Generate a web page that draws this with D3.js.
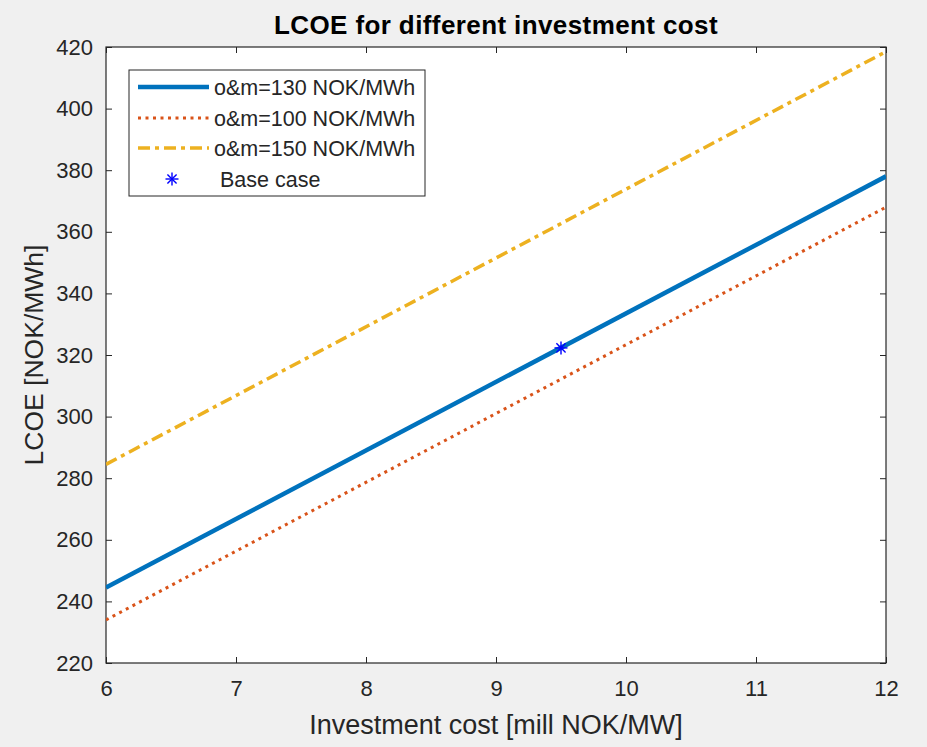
<!DOCTYPE html>
<html>
<head>
<meta charset="utf-8">
<script src="https://cdn.jsdelivr.net/npm/d3@7"></script>
<style>
  body { margin: 0; background: #f0f0f0; }
  text { font-family: "Liberation Sans", Arial, sans-serif; fill: #262626; }
</style>
</head>
<body>
<div id="chart"></div>
<script>
// Data
const investCost = [6, 12];
const lcoe130 = [244.5, 378];
const lcoe100 = [234, 368];
const lcoe150 = [284.5, 418.5];
const baseCase = { x: 9.5, y: 322.3 };

const xTicks = [6, 7, 8, 9, 10, 11, 12];
const yTicks = [220, 240, 260, 280, 300, 320, 340, 360, 380, 400, 420];

const seriesNames = ['o&m=130 NOK/MWh', 'o&m=100 NOK/MWh', 'o&m=150 NOK/MWh', 'Base case'];

const width = 927;
const height = 747;
const margin = { top: 47, right: 41, bottom: 84, left: 106 };
const innerWidth = width - margin.left - margin.right;
const innerHeight = height - margin.top - margin.bottom;

const svg = d3.select('#chart').append('svg')
    .attr('width', width)
    .attr('height', height)
    .style('display', 'block');

svg.append('rect')
    .attr('width', width).attr('height', height)
    .attr('fill', '#f0f0f0');

const g = svg.append('g')
    .attr('transform', `translate(${margin.left}, ${margin.top})`);

const xScale = d3.scaleLinear().domain([6, 12]).range([0, innerWidth]);
const yScale = d3.scaleLinear().domain([220, 420]).range([innerHeight, 0]);

g.append('rect')
    .attr('width', innerWidth).attr('height', innerHeight)
    .attr('fill', '#fff');

// Axes (ticks inside, box on)
const tickLen = 6;
const styleAxis = sel => {
    sel.select('.domain').remove();
    sel.selectAll('line').attr('stroke', '#262626');
    sel.selectAll('text').attr('font-size', 22).attr('fill', '#262626');
};

g.append('g')
    .attr('transform', `translate(0, ${innerHeight})`)
    .call(d3.axisBottom(xScale).tickValues(xTicks).tickSizeInner(-tickLen).tickPadding(17).tickFormat(d3.format('d')))
    .call(styleAxis);

g.append('g')
    .call(d3.axisTop(xScale).tickValues(xTicks).tickSizeInner(-tickLen).tickFormat(''))
    .call(styleAxis);

g.append('g')
    .call(d3.axisLeft(yScale).tickValues(yTicks).tickSizeInner(-tickLen).tickPadding(13).tickFormat(d3.format('d')))
    .call(styleAxis);

g.append('g')
    .attr('transform', `translate(${innerWidth}, 0)`)
    .call(d3.axisRight(yScale).tickValues(yTicks).tickSizeInner(-tickLen).tickFormat(''))
    .call(styleAxis);

g.append('rect')
    .attr('width', innerWidth).attr('height', innerHeight)
    .attr('fill', 'none')
    .attr('stroke', '#262626')
    .attr('stroke-width', 1.2);

// Lines
const lineGen = d3.line()
    .x(d => xScale(d[0]))
    .y(d => yScale(d[1]));

const series = [
    { values: lcoe130, color: '#0072BD', width: 4.5, dash: null },
    { values: lcoe100, color: '#D95319', width: 3, dash: '3,4.5' },
    { values: lcoe150, color: '#EDB120', width: 3.5, dash: '12,5,4,5' }
];

svg.append('clipPath').attr('id', 'plotClip')
    .append('rect').attr('width', innerWidth).attr('height', innerHeight);

const lineGroup = g.append('g').attr('clip-path', 'url(#plotClip)');

series.forEach(s => {
    lineGroup.append('path')
        .datum(investCost.map((x, i) => [x, s.values[i]]))
        .attr('d', lineGen)
        .attr('fill', 'none')
        .attr('stroke', s.color)
        .attr('stroke-width', s.width)
        .attr('stroke-dasharray', s.dash);
});

// asterisk marker
const asterisk = (sel, cx, cy, r) => {
    const m = sel.append('g').attr('transform', `translate(${cx}, ${cy})`);
    [0, 45, 90, 135].forEach(a => {
        const rad = a * Math.PI / 180;
        m.append('line')
            .attr('x1', -r * Math.cos(rad)).attr('y1', -r * Math.sin(rad))
            .attr('x2', r * Math.cos(rad)).attr('y2', r * Math.sin(rad))
            .attr('stroke', '#0000ff').attr('stroke-width', 1.4);
    });
};

asterisk(g, xScale(baseCase.x), yScale(baseCase.y), 6.5);

// Legend
const legend = g.append('g').attr('transform', 'translate(23, 23)');
legend.append('rect')
    .attr('width', 296).attr('height', 126)
    .attr('fill', '#fff')
    .attr('stroke', '#262626')
    .attr('stroke-width', 1);

const rowY = [17, 48, 78, 109];
series.forEach((s, i) => {
    legend.append('line')
        .attr('x1', 9).attr('x2', 80)
        .attr('y1', rowY[i]).attr('y2', rowY[i])
        .attr('stroke', s.color)
        .attr('stroke-width', s.width)
        .attr('stroke-dasharray', s.dash);
});
asterisk(legend, 43, rowY[3], 6.5);

seriesNames.forEach((name, i) => {
    legend.append('text')
        .attr('x', i === 3 ? 91 : 85)
        .attr('y', rowY[i])
        .attr('dy', '0.35em')
        .attr('font-size', 21.5)
        .text(name);
});

// Title and axis labels
svg.append('text')
    .attr('x', margin.left + innerWidth / 2)
    .attr('y', 34)
    .attr('text-anchor', 'middle')
    .attr('font-size', 26)
    .attr('font-weight', 'bold')
    .style('fill', '#000')
    .style('letter-spacing', '0.4px')
    .text('LCOE for different investment cost');

svg.append('text')
    .attr('x', margin.left + innerWidth / 2)
    .attr('y', 734)
    .attr('text-anchor', 'middle')
    .attr('font-size', 27)
    .text('Investment cost [mill NOK/MW]');

svg.append('text')
    .attr('transform', `translate(43, ${margin.top + innerHeight / 2}) rotate(-90)`)
    .attr('text-anchor', 'middle')
    .attr('font-size', 26.5)
    .text('LCOE [NOK/MWh]');
</script>
</body>
</html>
